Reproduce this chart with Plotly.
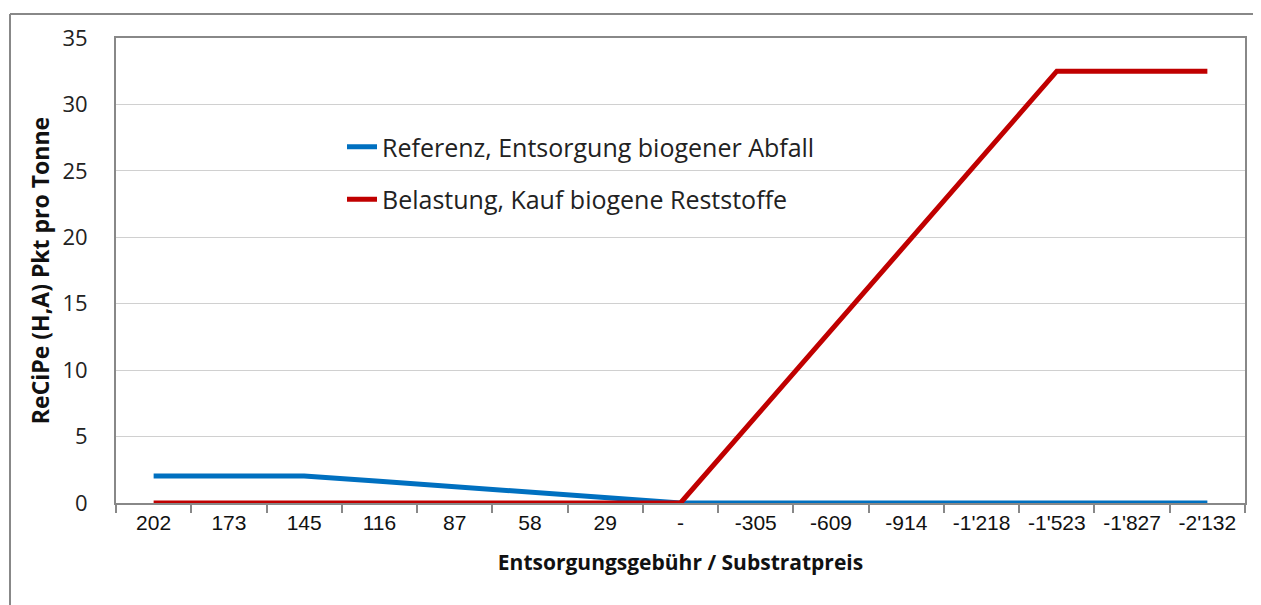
import plotly.graph_objects as go

categories = ["202", "173", "145", "116", "87", "58", "29", "-",
              "-305", "-609", "-914", "-1'218", "-1'523", "-1'827", "-2'132"]
referenz = [2.03, 2.03, 2.03, 1.63, 1.22, 0.81, 0.41, 0.0,
            0.0, 0.0, 0.0, 0.0, 0.0, 0.0, 0.0]
belastung = [0.0, 0.0, 0.0, 0.0, 0.0, 0.0, 0.0, 0.0,
             6.5, 13.0, 19.5, 26.0, 32.5, 32.5, 32.5]

OFF = 8  # page body margin
W, H = 1261 - OFF, 605 - OFF
L, R, T, B = 116 - OFF, 16, 38 - OFF, 102
pw, ph = W - L - R, H - T - B

fig = go.Figure()
fig.add_trace(go.Scatter(x=categories, y=referenz, mode="lines",
                         name="Referenz, Entsorgung biogener Abfall",
                         legendgroup="a",
                         line=dict(color="#0070C0", width=5)))
fig.add_trace(go.Scatter(x=categories, y=belastung, mode="lines",
                         name="Belastung, Kauf biogene Reststoffe",
                         legendgroup="b",
                         line=dict(color="#C00000", width=5)))

gray = "#888888"
# outer chart frame (page coords 10,14)
fx, fy = 10 - OFF, 14 - OFF
fig.add_shape(type="line", xref="paper", yref="paper",
              x0=(fx - L) / pw, x1=(W + 5 - L) / pw,
              y0=(H - B - fy) / ph, y1=(H - B - fy) / ph,
              line=dict(color=gray, width=2))
fig.add_shape(type="line", xref="paper", yref="paper",
              x0=(fx - L) / pw, x1=(fx - L) / pw,
              y0=(H - B - fy) / ph, y1=-(B + 5) / ph,
              line=dict(color=gray, width=2))

fig.update_layout(
    width=W, height=H,
    margin=dict(l=L, r=R, t=T, b=B, autoexpand=False),
    paper_bgcolor="white", plot_bgcolor="white",
    showlegend=True,
    legend=dict(x=(342 - OFF - L) / pw, y=(H - B - (124 - OFF)) / ph,
                xanchor="left", yanchor="top",
                bgcolor="rgba(0,0,0,0)", tracegroupgap=17,
                font=dict(family="Open Sans", size=25, color="#222222")),
    xaxis=dict(type="category", categoryorder="array", categoryarray=categories,
               range=[-0.5, len(categories) - 0.5], automargin=False,
               showline=True, linecolor=gray, linewidth=2, mirror=True,
               ticks="outside", tickson="boundaries", ticklen=8, tickcolor=gray,
               tickwidth=2, showgrid=False,
               tickfont=dict(family="Liberation Sans", size=21, color="#111111"),
               title=dict(text="<b>Entsorgungsgebühr / Substratpreis</b>",
                          font=dict(family="Open Sans", size=21, color="#111111"),
                          standoff=22)),
    yaxis=dict(range=[0, 35], dtick=5, showline=True, linecolor=gray, linewidth=2,
               mirror=True, ticks="", showgrid=True, gridcolor="#d0d0d0", gridwidth=1,
               zeroline=False, ticklabelstandoff=22, automargin=False,
               tickfont=dict(family="Open Sans", size=22, color="#222222"),
               title=dict(text="<b>ReCiPe (H,A) Pkt pro Tonne</b>",
                          font=dict(family="Open Sans", size=23, color="#111111"),
                          standoff=6)),
)

fig.write_html("out.html")
